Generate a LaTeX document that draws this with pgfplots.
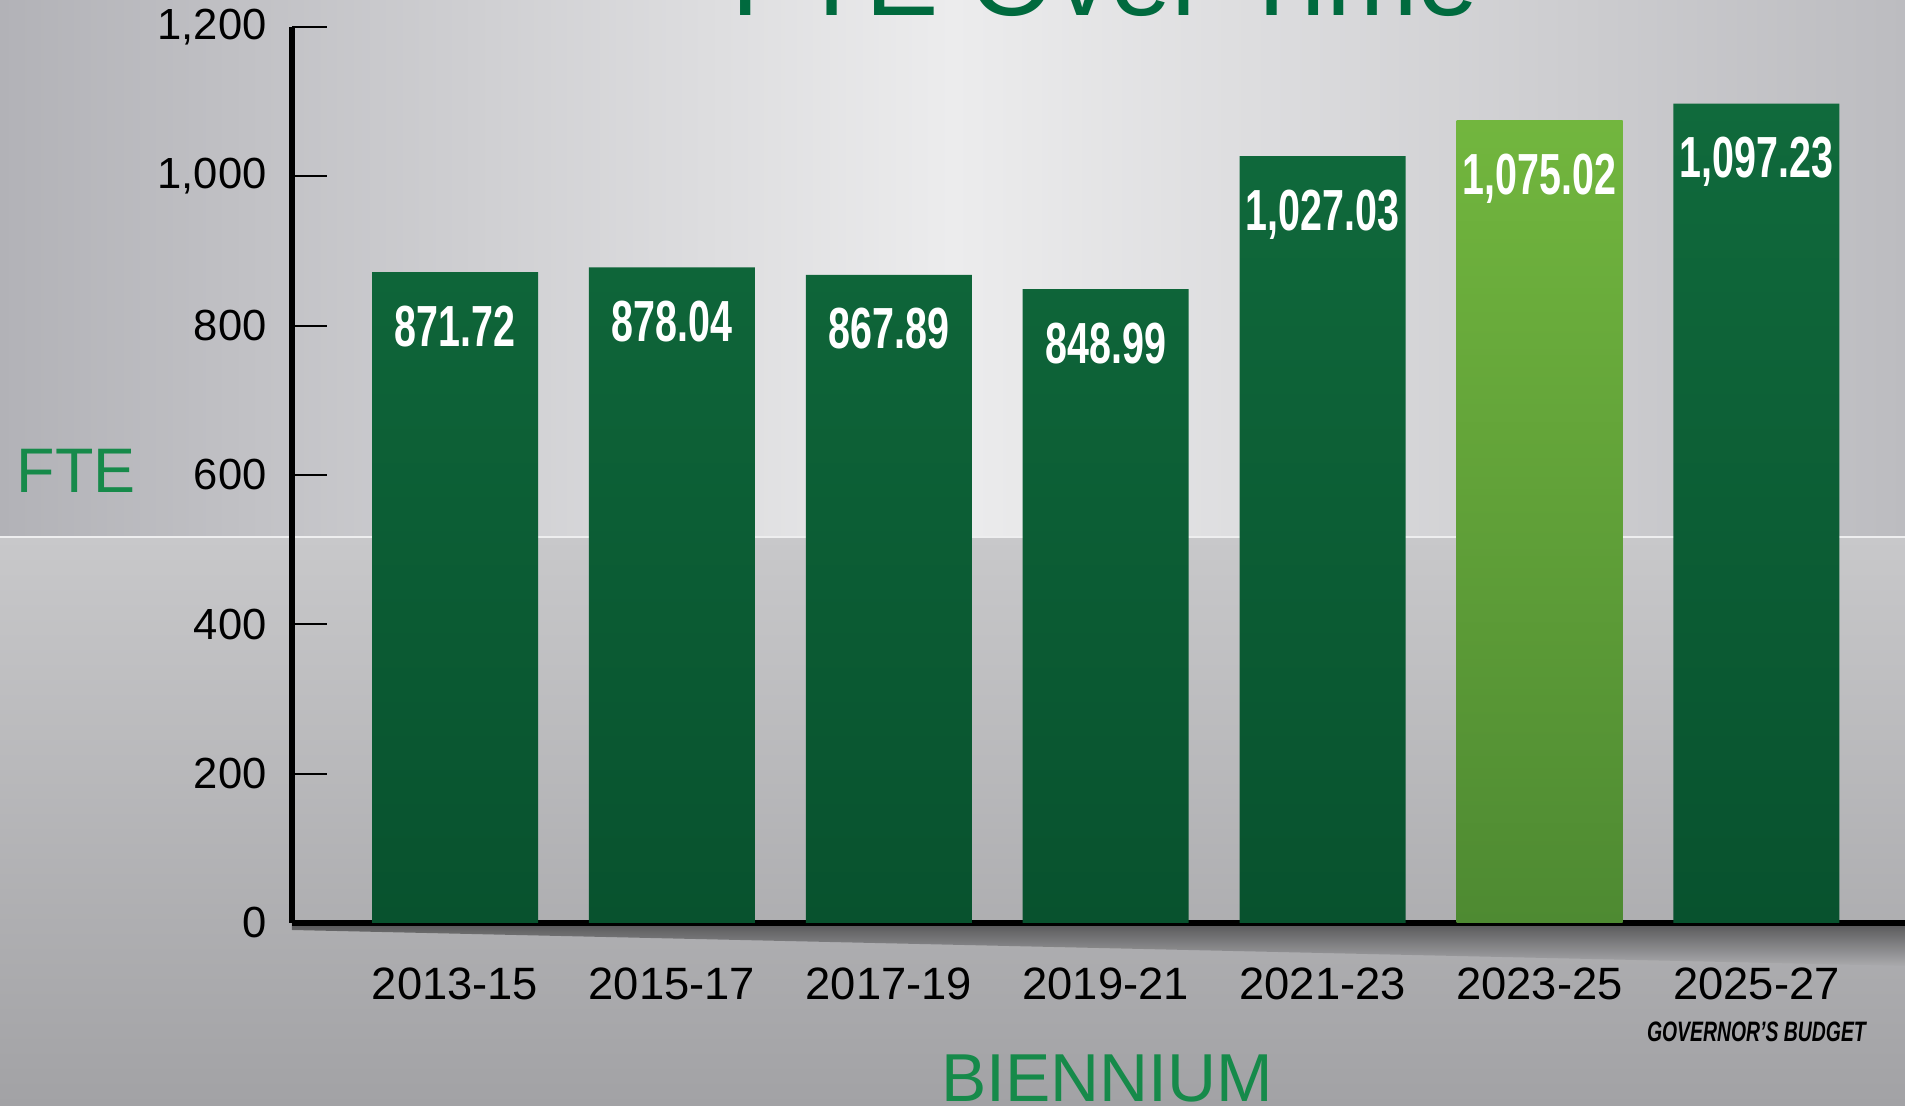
\documentclass[border=0pt]{standalone}
\usepackage{fontspec}
\setmainfont{Liberation Sans}
\usepackage{graphicx}
\usepackage{pgfplots}
\pgfplotsset{compat=1.18}
\usetikzlibrary{fadings}
\definecolor{dgreenT}{RGB}{16,106,60}
\definecolor{dgreenB}{RGB}{8,82,46}
\definecolor{lgreenT}{RGB}{114,182,62}
\definecolor{lgreenB}{RGB}{78,138,50}
\definecolor{txtgreen}{RGB}{22,138,74}
\definecolor{titlegreen}{RGB}{0,106,62}
\definecolor{bgL}{RGB}{178,178,183}
\definecolor{bgM}{RGB}{236,236,237}
\definecolor{bgR}{RGB}{188,188,192}
\definecolor{bgLT}{RGB}{200,200,202}
\definecolor{bgLB}{RGB}{162,162,165}
\begin{document}
\begin{tikzpicture}
% background
\shade[left color=bgL, right color=bgR, middle color=bgM] (0,56.9mm) rectangle (190.5mm,110.6mm);
\shade[top color=bgLT, bottom color=bgLB] (0,0) rectangle (190.5mm,56.9mm);
\draw[white!70!bgLT, line width=0.25mm] (0,56.9mm) -- (190.5mm,56.9mm);
% shadow under the axis line
\fill[black, opacity=0.5, path fading=south] (29.2mm,18.3mm) -- (190.5mm,18.3mm) -- (190.5mm,14.0mm) -- (29.2mm,17.6mm) -- cycle;
% title (cut by the page edge)
\node[anchor=base, inner sep=0pt, font=\fontsize{31.3pt}{36pt}\selectfont, text=titlegreen] at (110.5mm,109.0mm) {FTE Over Time};
% axis titles
\node[anchor=center, inner sep=0pt, font=\fontsize{17.9pt}{20pt}\selectfont, text=txtgreen] at (7.6mm,63.5mm) {FTE};
\node[anchor=base, inner sep=0pt, font=\fontsize{19.3pt}{22pt}\selectfont, text=txtgreen] at (110.7mm,0.4mm) {BIENNIUM};
\begin{axis}[
  at={(29.2mm,18.3mm)}, anchor=south west,
  scale only axis, width=161.3mm, height=89.6mm,
  xmin=-0.7515, xmax=6.685, ymin=0, ymax=1200,
  axis x line=bottom, axis y line=left,
  axis line style={-, line width=0.6mm, black},
  ytick={0,200,400,600,800,1000,1200},
  xtick={0,1,2,3,4,5,6},
  xticklabels={2013-15,2015-17,2017-19,2019-21,2021-23,2023-25,2025-27},
  major x tick style={draw=none},
  major y tick style={line width=0.2mm, black},
  major tick length=3.5mm,
  tick align=inside,
  yticklabel style={font=\fontsize{12.4pt}{14pt}\selectfont, xshift=-1.3mm, /pgf/number format/1000 sep={,}},
  xticklabel style={font=\fontsize{12.9pt}{14pt}\selectfont, yshift=-3.2mm},
  /pgf/number format/assume math mode=true,
  clip=false,
  nodes near coords={\scalebox{0.68}[1]{\pgfmathprintnumber[fixed,fixed zerofill,precision=2,1000 sep={,}]{\pgfplotspointmeta}}},
  every node near coord/.append style={anchor=base, yshift=-7.4mm, text=white, font=\fontsize{16.5pt}{18pt}\selectfont\bfseries},
]
\addplot[ybar, bar width=16.6mm, bar shift=0pt, draw=none, top color=dgreenT, bottom color=dgreenB]
  coordinates {(0,871.72) (1,878.04) (2,867.89) (3,848.99) (4,1027.03) (6,1097.23)};
\addplot[ybar, bar width=16.6mm, bar shift=0pt, draw=none, top color=lgreenT, bottom color=lgreenB]
  coordinates {(5,1075.02)};
\node[anchor=base, inner sep=0pt, font=\fontsize{8pt}{9pt}\selectfont\bfseries\itshape] at (axis cs:6,0) [yshift=-11.9mm] {\scalebox{0.69}[1]{GOVERNOR'S BUDGET}};
\end{axis}
\pgfresetboundingbox
\useasboundingbox (0,0) rectangle (190.5mm,110.6mm);
\end{tikzpicture}
\end{document}
